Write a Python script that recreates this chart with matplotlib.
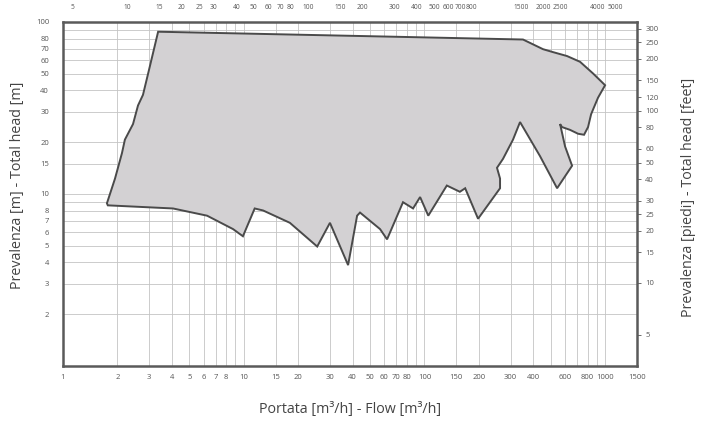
import numpy as np
import matplotlib
matplotlib.use('Agg')
from matplotlib import pyplot as plt
from matplotlib import ticker

plt.rcParams['font.family'] = ['Open Sans', 'DejaVu Sans']

# Pump range envelope: flow [m3/h] and total head [m]
flow = [3.36, 64.5, 351, 453, 515, 615, 726, 857, 999, 913, 857, 836, 804, 764,
        708, 639, 577, 563, 600, 656, 542, 436, 338, 309, 272, 252, 262, 262,
        198, 168, 157, 133, 105, 94.6, 86.5, 76.1, 62.1, 56.8, 44.0, 42.4, 37.8,
        30.0, 25.5, 18.0, 12.8, 11.5, 9.9, 8.73, 6.27, 4.06, 1.77, 1.75, 1.94,
        2.12, 2.20, 2.44, 2.60, 2.77, 3.03]
head = [87.8, 82.2, 79.1, 69.5, 66.8, 63.4, 58.7, 50.2, 42.9, 36.3, 31.0, 29.1,
        24.5, 22.1, 22.4, 23.6, 24.5, 25.5, 18.9, 14.6, 10.8, 16.6, 26.2, 20.7,
        16.0, 14.2, 12.3, 10.8, 7.18, 10.8, 10.3, 11.2, 7.48, 9.6, 8.24, 8.96,
        5.45, 6.25, 7.80, 7.48, 3.86, 6.80, 4.95, 6.80, 8.02, 8.24, 5.68, 6.25,
        7.48, 8.24, 8.59, 8.83, 12.3, 17.3, 20.7, 25.5, 32.7, 37.7, 55.7]

x_ticks = [1, 2, 3, 4, 5, 6, 7, 8, 10, 15, 20, 30, 40, 50, 60, 70, 80, 100,
           150, 200, 300, 400, 600, 800, 1000, 1500]
y_ticks = [2, 3, 4, 5, 6, 7, 8, 10, 15, 20, 30, 40, 50, 60, 70, 80, 100]
ft_ticks = [5, 10, 15, 20, 25, 30, 40, 50, 60, 80, 100, 120, 150, 200, 250, 300]
gpm_ticks = [5, 10, 15, 20, 25, 30, 40, 50, 60, 70, 80, 100, 150, 200, 300,
             400, 500, 600, 700, 800, 1500, 2000, 2500, 4000, 5000]

M_TO_FT = 3.28084
M3H_TO_GPM = 4.4029

fig = plt.figure(figsize=(7.04, 4.24), dpi=100)
fig.set_facecolor('w')
ax = fig.add_axes([63 / 704, 58 / 424, 574 / 704, 344 / 424])

ax.set_xscale('log')
ax.set_yscale('log')
ax.set_xlim(1, 1500)
ax.set_ylim(1, 100)

# grid
ax.xaxis.set_major_locator(ticker.FixedLocator(x_ticks))
ax.xaxis.set_minor_locator(ticker.LogLocator(base=10, subs=np.arange(1, 10)))
ax.yaxis.set_major_locator(ticker.FixedLocator(y_ticks))
ax.yaxis.set_minor_locator(ticker.LogLocator(base=10, subs=np.arange(1, 10)))
ax.xaxis.set_major_formatter(ticker.FixedFormatter([str(v) for v in x_ticks]))
ax.yaxis.set_major_formatter(ticker.FixedFormatter([str(v) for v in y_ticks]))
ax.xaxis.set_minor_formatter(ticker.NullFormatter())
ax.yaxis.set_minor_formatter(ticker.NullFormatter())
ax.grid(which='both', c='#c4c4c4', lw=0.6, zorder=0)
ax.set_axisbelow(True)

ax.fill(flow, head, facecolor='#d3d1d3', edgecolor='#4a4a4a', lw=1.4, zorder=3)

for s in ax.spines.values():
    s.set_color('#5a5a5a')
    s.set_linewidth(1.8)

ax.tick_params(which='both', length=0, labelsize=5.5, colors='#555555', pad=6)
ax.tick_params(axis='y', pad=10)

# secondary scales: feet on the right, US gpm on top
ax_ft = ax.secondary_yaxis('right', functions=(lambda m: m * M_TO_FT,
                                               lambda f: f / M_TO_FT))
ax_ft.yaxis.set_major_locator(ticker.FixedLocator(ft_ticks))
ax_ft.yaxis.set_major_formatter(ticker.FixedFormatter([str(v) for v in ft_ticks]))
ax_ft.yaxis.set_minor_locator(ticker.NullLocator())
ax_ft.tick_params(length=3, width=0.6, labelsize=5.5, colors='#555555', pad=3)
ax_ft.spines['right'].set_visible(False)

ax_gpm = ax.secondary_xaxis('top', functions=(lambda q: q * M3H_TO_GPM,
                                              lambda g: g / M3H_TO_GPM))
ax_gpm.xaxis.set_major_locator(ticker.FixedLocator(gpm_ticks))
ax_gpm.xaxis.set_major_formatter(ticker.FixedFormatter([str(v) for v in gpm_ticks]))
ax_gpm.xaxis.set_minor_locator(ticker.NullLocator())
ax_gpm.tick_params(length=0, labelsize=4.8, colors='#555555', pad=8)
ax_gpm.spines['top'].set_visible(False)

fig.text(18 / 704, 1 - 185 / 424, 'Prevalenza [m] - Total head [m]', rotation=90,
         ha='center', va='center', fontsize=10.3, color='#444444')
fig.text(688 / 704, 1 - 197 / 424, 'Prevalenza [piedi] - Total head [feet]',
         rotation=90, ha='center', va='center', fontsize=10.3, color='#444444')
fig.text(350 / 704, 1 - 410 / 424, 'Portata [m³/h] - Flow [m³/h]',
         ha='center', va='center', fontsize=10.3, color='#444444')

fig.savefig('out.png', dpi=100)
